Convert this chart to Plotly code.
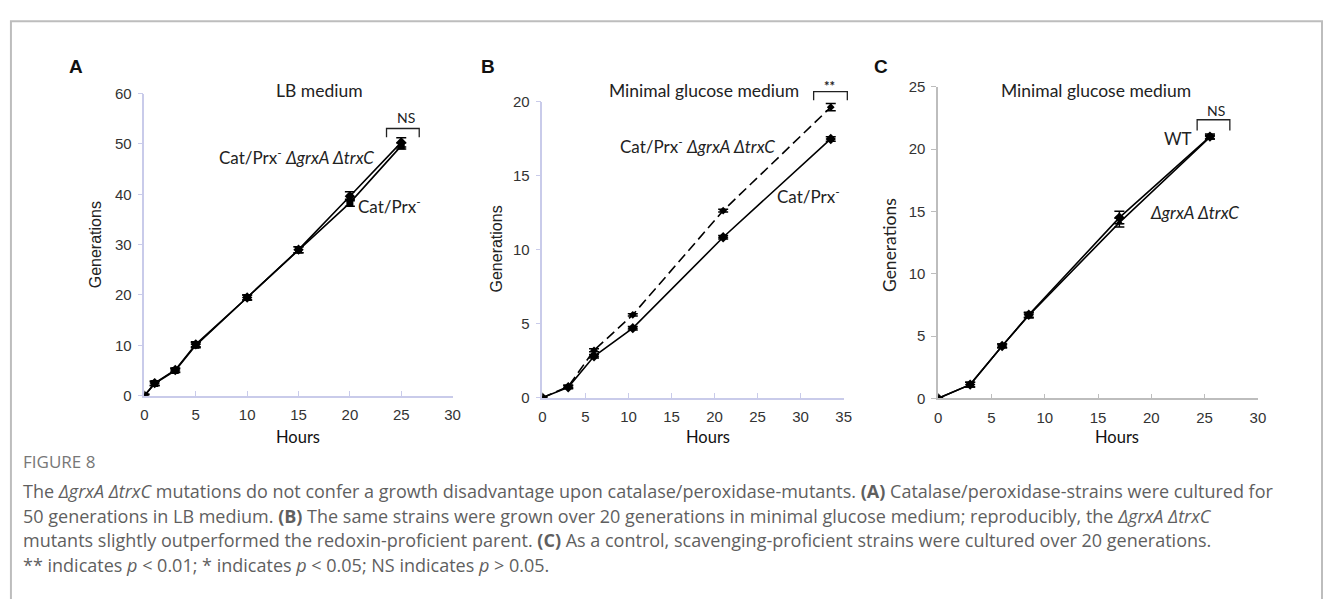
import plotly.graph_objects as go

W, H = 1331, 599

# ---------------- data ----------------
a_hours = [0, 1, 3, 5, 10, 15, 20, 25]
a_mut = [0, 2.5, 5.1, 10.2, 19.5, 29.0, 39.6, 50.3]
a_mut_err = [0.3, 0.4, 0.4, 0.5, 0.5, 0.6, 0.9, 0.9]
a_par = [0, 2.4, 5.0, 10.0, 19.5, 29.0, 38.3, 49.6]
a_par_err = [0.3, 0.4, 0.4, 0.5, 0.5, 0.6, 0.7, 0.6]

b_hours = [0, 3, 6, 10.5, 21, 33.5]
b_mut = [0, 0.75, 3.2, 5.6, 12.65, 19.65]
b_mut_err = [0.05, 0.1, 0.1, 0.08, 0.1, 0.25]
b_par = [0, 0.7, 2.8, 4.7, 10.85, 17.5]
b_par_err = [0.05, 0.1, 0.12, 0.12, 0.12, 0.15]

c_hours = [0, 3, 6, 8.5, 17, 25.5]
c_wt = [0, 1.1, 4.2, 6.7, 14.5, 21.0]
c_wt_err = [0.1, 0.2, 0.15, 0.2, 0.5, 0.2]
c_mut = [0, 1.1, 4.2, 6.65, 14.1, 20.95]
c_mut_err = [0.1, 0.2, 0.15, 0.2, 0.35, 0.15]

a_xticks = [0, 5, 10, 15, 20, 25, 30]
a_yticks = [0, 10, 20, 30, 40, 50, 60]
b_xticks = [0, 5, 10, 15, 20, 25, 30, 35]
b_yticks = [0, 5, 10, 15, 20]
c_xticks = [0, 5, 10, 15, 20, 25, 30]
c_yticks = [0, 5, 10, 15, 20, 25]


def px(x):
    return x / W


def py(y):
    return 1 - y / H


fig = go.Figure()


def series(xs, ys, err, ax, dash="solid", symbol="diamond", size=7):
    fig.add_trace(go.Scatter(
        x=xs, y=ys, xaxis="x" + ax, yaxis="y" + ax, mode="lines+markers",
        line=dict(color="black", width=1.6, dash=dash),
        marker=dict(color="black", symbol=symbol, size=size),
        error_y=dict(type="data", array=err, color="black", thickness=1.5, width=5),
        showlegend=False, hoverinfo="skip"))


series(a_hours, a_mut, a_mut_err, "", symbol="diamond", size=8)
series(a_hours, a_par, a_par_err, "", symbol="square", size=7)
series(b_hours, b_mut, b_mut_err, "2", dash="10px,5px", symbol="diamond", size=6)
series(b_hours, b_par, b_par_err, "2", symbol="diamond", size=8)
series(c_hours, c_wt, c_wt_err, "3", symbol="diamond", size=8)
series(c_hours, c_mut, c_mut_err, "3", symbol="triangle-up", size=7)

tickfont = dict(family="Liberation Sans, Arial", size=15, color="#333")


def axes(xdom_px, ydom_px, xr, yr, xt, yt, color):
    xa = dict(domain=[px(xdom_px[0]), px(xdom_px[1])], range=xr, tickvals=xt,
              showline=True, linecolor=color, linewidth=1.5, showgrid=False,
              zeroline=False, ticks="inside", ticklen=5, tickcolor=color,
              tickfont=tickfont, ticklabelstandoff=5, fixedrange=True)
    ya = dict(domain=[py(ydom_px[0]), py(ydom_px[1])], range=yr, tickvals=yt,
              showline=True, linecolor=color, linewidth=1.5, showgrid=False,
              zeroline=False, ticks="outside", ticklen=5, tickcolor=color,
              tickfont=tickfont, ticklabelstandoff=3, fixedrange=True)
    return xa, ya


xa1, ya1 = axes((141.7, 452.7), (398, 87), [0, 30], [0, 60], a_xticks, a_yticks, "#c9cbea")
xa2, ya2 = axes((543.3, 847.3), (400, 95.7), [0, 35], [0, 20], b_xticks, b_yticks, "#c9cbea")
xa3, ya3 = axes((942.7, 1265.3), (400.7, 80), [0, 30], [0, 25], c_xticks, c_yticks, "#bdbdbd")
ya1["anchor"] = "x"
xa1["anchor"] = "y"
xa2["anchor"] = "y2"
ya2["anchor"] = "x2"
xa3["anchor"] = "y3"
ya3["anchor"] = "x3"

annotations = []


def txt(x, y, s, size=15, family="Lato, Open Sans", color="#222", xanchor="center"):
    annotations.append(dict(x=px(x), y=py(y), xref="paper", yref="paper", text=s,
                            showarrow=False, xanchor=xanchor, yanchor="middle",
                            font=dict(size=size, family=family, color=color)))


lab = "Lato, Open Sans"
# panel letters
txt(73, 59, "<b>A</b>", size=19, family="Liberation Sans, Arial", color="#111")
txt(488, 59, "<b>B</b>", size=19, family="Liberation Sans, Arial", color="#111")
txt(885, 59, "<b>C</b>", size=19, family="Liberation Sans, Arial", color="#111")
# titles
txt(318, 84, "LB medium", size=17.5)
txt(706, 84, "Minimal glucose medium", size=17.5)
txt(1102, 84, "Minimal glucose medium", size=17.5)
# series labels
txt(295, 152, "Cat/Prx<sup>-</sup> <i>ΔgrxA ΔtrxC</i>", size=17)
txt(389, 202, "Cat/Prx<sup>-</sup>", size=17)
txt(700, 140, "Cat/Prx<sup>-</sup> <i>ΔgrxA ΔtrxC</i>", size=17)
txt(812, 192, "Cat/Prx<sup>-</sup>", size=17)
txt(1185, 133, "WT", size=17)
txt(1201, 209, "<i>ΔgrxA ΔtrxC</i>", size=17)
# significance
txt(406, 112, "NS", size=14)
txt(833, 79, "<b>**</b>", size=13)
txt(1223, 104, "NS", size=14)
# axis titles
txt(297, 440, "Hours", size=16.5, color="#111")
txt(710, 440, "Hours", size=16.5, color="#111")
txt(1123, 440, "Hours", size=16.5, color="#111")
for xg, yg, fam, sz in [(92, 243, "Liberation Sans, Arial", 16),
                        (497, 247, "Liberation Sans, Arial", 16),
                        (893, 243, lab, 17.5)]:
    annotations.append(dict(x=px(xg), y=py(yg), xref="paper", yref="paper",
                            text="Generations", showarrow=False, textangle=-90,
                            xanchor="center", yanchor="middle",
                            font=dict(size=sz, family=fam, color="#222")))

# caption
cap_font = "Open Sans, Lato"
annotations.append(dict(x=px(17), y=py(466), xref="paper", yref="paper", text="FIGURE 8",
                        showarrow=False, xanchor="left", yanchor="middle",
                        font=dict(size=17, family=cap_font, color="#777")))
cap_lines = [
    "The <i>ΔgrxA ΔtrxC</i> mutations do not confer a growth disadvantage upon catalase/peroxidase-mutants. <b>(A)</b> Catalase/peroxidase-strains were cultured for",
    "50 generations in LB medium. <b>(B)</b> The same strains were grown over 20 generations in minimal glucose medium; reproducibly, the <i>ΔgrxA ΔtrxC</i>",
    "mutants slightly outperformed the redoxin-proficient parent. <b>(C)</b> As a control, scavenging-proficient strains were cultured over 20 generations.",
    "** indicates <i>p</i> &lt; 0.01; * indicates <i>p</i> &lt; 0.05; NS indicates <i>p</i> &gt; 0.05.",
]
for i, line in enumerate(cap_lines):
    annotations.append(dict(x=px(17), y=py(496 + i * 25.5), xref="paper", yref="paper",
                            text=line, showarrow=False, xanchor="left", yanchor="middle",
                            font=dict(size=18, family=cap_font, color="#5f5f5f")))

shapes = []
# outer frame
shapes.append(dict(type="rect", xref="paper", yref="paper", x0=px(7), x1=px(1330),
                   y0=py(640), y1=py(12.5), line=dict(color="#bdbdbd", width=2)))


def bracket(x0, x1, ytop, ybot):
    shapes.append(dict(type="path", xref="paper", yref="paper",
                       path=f"M {px(x0)} {py(ybot)} L {px(x0)} {py(ytop)} L {px(x1)} {py(ytop)} L {px(x1)} {py(ybot)}",
                       line=dict(color="#222", width=1.3)))


bracket(386, 419, 123, 132)
bracket(817, 851, 85, 94)
bracket(1204, 1237, 114, 125)

fig.update_layout(
    width=W, height=H, margin=dict(l=0, r=0, t=0, b=0),
    paper_bgcolor="white", plot_bgcolor="white",
    xaxis=xa1, yaxis=ya1, xaxis2=xa2, yaxis2=ya2, xaxis3=xa3, yaxis3=ya3,
    annotations=annotations, shapes=shapes, showlegend=False,
)

# the page body has a default 8px margin; remove it so the 1331x599 figure fills the window exactly
fig.write_html("out.html",
               post_script="document.body.style.margin='0';document.body.style.padding='0';document.documentElement.style.overflow='hidden';")
